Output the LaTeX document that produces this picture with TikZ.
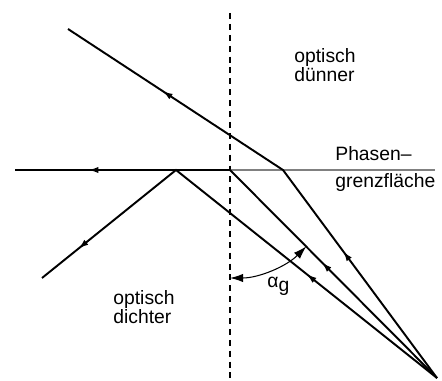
\documentclass[tikz,border=0pt]{standalone}
\usepackage{fontspec}
\setmainfont{Liberation Sans}
\usetikzlibrary{arrows.meta,decorations.markings,calc}

\tikzset{
  ray/.style={line width=1.1pt, line join=miter},
  twoarrows/.style 2 args={postaction={decorate}, decoration={markings,
      mark=at position #1 with {\arrow{Latex[length=5.8pt,width=3.6pt]}},
      mark=at position #2 with {\arrow{Latex[length=5.8pt,width=3.6pt]}}}},
  label/.style={inner sep=0pt, align=left},
}

\begin{document}
\begin{tikzpicture}[x=0.02cm, y=-0.02cm, font=\fontsize{11}{10.8}\selectfont]
    \useasboundingbox (0,0) rectangle (442,381);

    % --- Punkte: Lichtquelle, Auftreffpunkte, Enden ---
    \coordinate (src) at (437,378);
    \coordinate (hit1) at (283,170);
    \coordinate (hit2) at (230,170);
    \coordinate (hit3) at (176,170);
    \coordinate (end1) at (68,29);
    \coordinate (end2) at (15,170);
    \coordinate (end3) at (42,278);

    % --- Lot (gestrichelt) und Phasengrenze ---
    \draw[dash pattern=on 3.4pt off 2.8pt, line width=0.6pt] (230,13) coordinate (lotA) -- (230,381) coordinate (lotB);
    \draw[gray, line width=1.1pt] (end2) -- (435,170) coordinate (grenzR);

    % --- Strahlen ---
    \draw[ray, twoarrows={0.306}{0.781}] (src) -- (hit1) -- (end1);
    \draw[ray, twoarrows={0.321}{0.856}] (src) -- (hit2) -- (end2);
    \draw[ray, twoarrows={0.330}{0.908}] (src) -- (hit3) -- (end3);

    % --- Grenzwinkel ---
    \draw[{Latex[length=7.5pt,width=4.8pt]}-{Latex[length=7.5pt,width=4.8pt]}, line width=0.6pt]
        ($(hit2)+(0,108)$) arc[start angle=90, end angle=45, radius=108];
    \node[label, anchor=base west] (alpha) at (267,287) {α\raisebox{-0.4ex}{g}};

    % --- Beschriftungen ---
    \node[label, anchor=north west] (duenn) at (294,48) {optisch\\dünner};
    \node[label, anchor=base west] (phasen) at (335,161) {Phasen–};
    \node[label, anchor=base west] (grenz) at (335,188) {grenzfläche};
    \node[label, anchor=north west] (dicht) at (113,290) {optisch\\dichter};
\end{tikzpicture}
\end{document}
